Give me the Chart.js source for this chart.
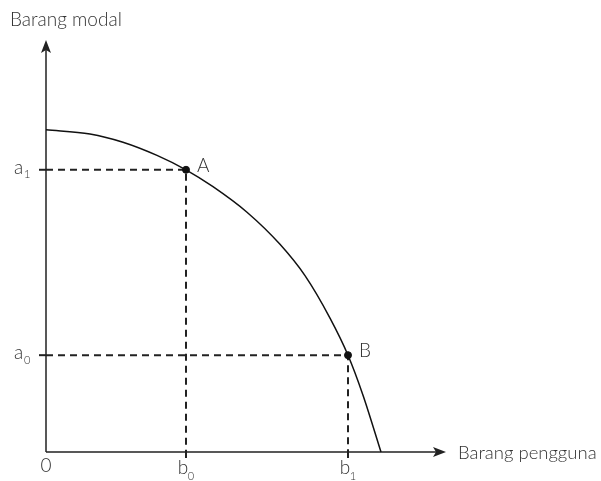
<!DOCTYPE html>
<html>
<head>
<meta charset="utf-8">
<script src="https://cdn.jsdelivr.net/npm/chart.js@4"></script>
<style>
  html, body { margin: 0; padding: 0; background: #fff; }
  #wrap { width: 601px; height: 481px; position: relative; }
</style>
</head>
<body>
<div id="wrap"><canvas id="myChart"></canvas></div>
<script>
var ctx = document.getElementById("myChart").getContext("2d");

// kurva kemungkinan produksi
var curveX = [0, 11, 19.25, 27.75, 35, 41.75, 50.25, 58.5, 64.75, 71, 75.5, 79.25, 83.75];
var curveY = [78.2, 77.2, 75.2, 72.0, 68.5, 64.4, 58.2, 50.4, 42.8, 32.5, 23.5, 13.8, 0];

var pointNames = ["A", "B"];
var pointX = [35, 75.5];
var pointY = [68.5, 23.5];

var yTickLabels = ["a", "a"];
var yTickSubs = ["1", "0"];
var xTickLabels = ["b", "b"];
var xTickSubs = ["0", "1"];

var yTitle = "Barang modal";
var xTitle = "Barang pengguna";
var originLabel = "0";

var curveData = [];
for (var i = 0; i < curveX.length; i++) {
  curveData.push({ x: curveX[i], y: curveY[i] });
}

var FONT = "Lato, 'Open Sans', sans-serif";
var TXT = "#333";

function guide(k) {
  return {
    type: "line",
    data: [
      { x: 0, y: pointY[k] },
      { x: pointX[k], y: pointY[k] },
      { x: pointX[k], y: 0 },
    ],
    borderColor: "#222",
    borderWidth: 2,
    borderDash: [7, 5],
    pointRadius: 0,
    tension: 0,
    clip: false,
    order: 3,
  };
}

var axesPlugin = {
  id: "axesPlugin",
  beforeDatasetsDraw: function (chart) {
    var c = chart.ctx;
    var xs = chart.scales.x, ys = chart.scales.y;
    var x0 = xs.getPixelForValue(0), y0 = ys.getPixelForValue(0);
    var xEnd = xs.getPixelForValue(100), yEnd = ys.getPixelForValue(100);
    c.save();
    c.strokeStyle = "#222";
    c.fillStyle = "#222";
    c.lineWidth = 1.5;
    c.beginPath();
    c.moveTo(x0, y0);
    c.lineTo(x0, yEnd + 8);
    c.moveTo(x0, y0);
    c.lineTo(xEnd - 8, y0);
    c.stroke();
    // panah
    c.beginPath();
    c.moveTo(x0, yEnd);
    c.lineTo(x0 - 5, yEnd + 13);
    c.lineTo(x0, yEnd + 10);
    c.lineTo(x0 + 5, yEnd + 13);
    c.closePath();
    c.fill();
    c.beginPath();
    c.moveTo(xEnd, y0);
    c.lineTo(xEnd - 13, y0 - 5);
    c.lineTo(xEnd - 10, y0);
    c.lineTo(xEnd - 13, y0 + 5);
    c.closePath();
    c.fill();
    // tick kecil
    c.lineWidth = 2;
    for (var i = 0; i < pointY.length; i++) {
      var py = ys.getPixelForValue(pointY[i]);
      c.beginPath();
      c.moveTo(x0 - 7, py);
      c.lineTo(x0, py);
      c.stroke();
      var px = xs.getPixelForValue(pointX[i]);
      c.beginPath();
      c.moveTo(px, y0);
      c.lineTo(px, y0 + 6);
      c.stroke();
    }
    c.restore();
  },
  afterDraw: function (chart) {
    var c = chart.ctx;
    var xs = chart.scales.x, ys = chart.scales.y;
    var x0 = xs.getPixelForValue(0), y0 = ys.getPixelForValue(0);
    var xEnd = xs.getPixelForValue(100);
    c.save();
    c.fillStyle = TXT;
    c.textBaseline = "middle";
    c.font = "300 19px " + FONT;
    c.textAlign = "left";
    c.fillText(yTitle, 10, 20);
    c.font = "300 18.5px " + FONT;
    c.fillText(xTitle, xEnd + 12, y0 + 1);
    c.font = "300 19px " + FONT;
    c.textAlign = "center";
    c.fillText(originLabel, x0, y0 + 14);
    // label titik
    c.textAlign = "left";
    for (var i = 0; i < pointNames.length; i++) {
      c.font = "300 19px " + FONT;
      c.fillText(pointNames[i], xs.getPixelForValue(pointX[i]) + 11, ys.getPixelForValue(pointY[i]) - 4);
    }
    // label sumbu y
    for (var j = 0; j < yTickLabels.length; j++) {
      var py = ys.getPixelForValue(pointY[j]);
      c.font = "300 19px " + FONT;
      c.textAlign = "left";
      c.fillText(yTickLabels[j], 14, py - 2);
      c.font = "300 11px " + FONT;
      c.fillText(yTickSubs[j], 24, py + 5);
    }
    // label sumbu x
    for (var k = 0; k < xTickLabels.length; k++) {
      var px = xs.getPixelForValue(pointX[k]);
      c.font = "300 19px " + FONT;
      c.textAlign = "center";
      c.fillText(xTickLabels[k], px - 3, y0 + 16);
      c.font = "300 11px " + FONT;
      c.fillText(xTickSubs[k], px + 5, y0 + 24);
    }
    c.restore();
  },
};

var myChart = new Chart(ctx, {
  type: "line",
  data: {
    datasets: [
      {
        type: "scatter",
        data: pointX.map(function (v, i) { return { x: v, y: pointY[i] }; }),
        backgroundColor: "#111",
        borderColor: "#111",
        pointRadius: 3.5,
        pointHoverRadius: 3.5,
        clip: false,
        order: 1,
      },
      {
        type: "line",
        data: curveData,
        borderColor: "#111",
        borderWidth: 1.5,
        pointRadius: 0,
        cubicInterpolationMode: "monotone",
        clip: false,
        order: 2,
      },
      guide(0),
      guide(1),
    ],
  },
  options: {
    responsive: true,
    maintainAspectRatio: false,
    animation: false,
    events: [],
    layout: {
      padding: { left: 46, right: 155, top: 40, bottom: 29 },
    },
    plugins: {
      legend: { display: false },
      tooltip: { enabled: false },
    },
    scales: {
      x: { type: "linear", min: 0, max: 100, display: false },
      y: { type: "linear", min: 0, max: 100, display: false },
    },
  },
  plugins: [axesPlugin],
});
</script>
</body>
</html>
